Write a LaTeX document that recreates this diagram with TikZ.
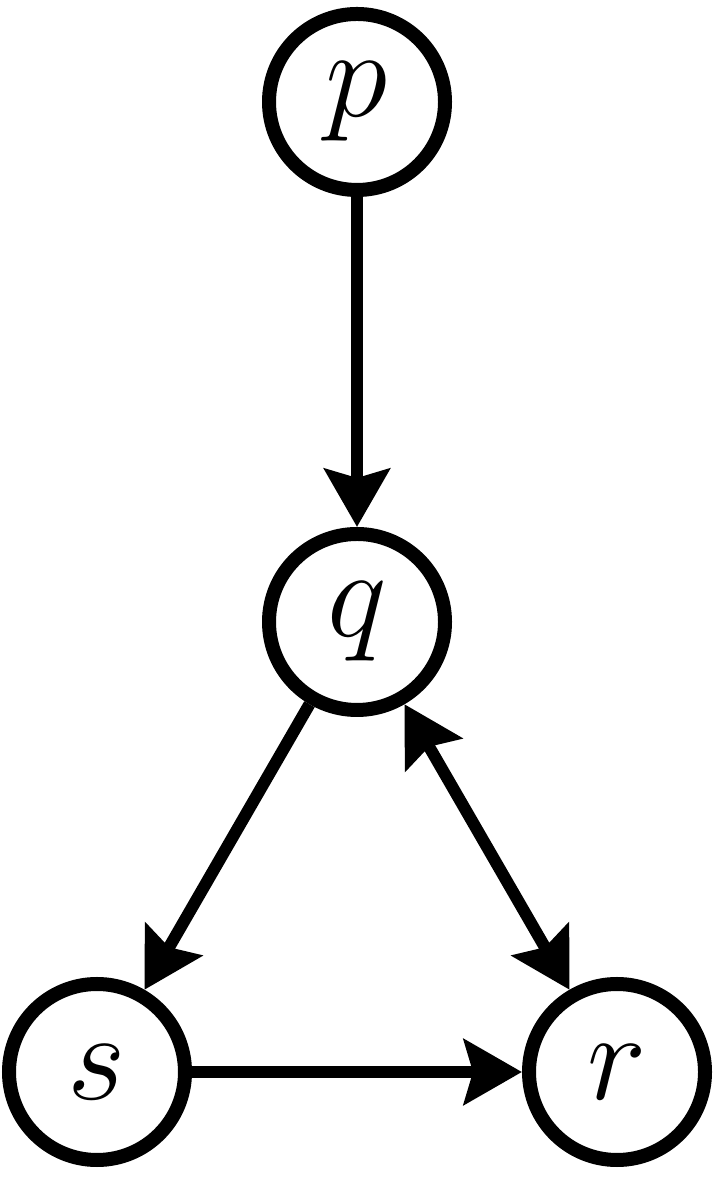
\documentclass[tikz,border=0pt]{standalone}
\usepackage{fix-cm}
\usetikzlibrary{arrows.meta}

\begin{document}
\begin{tikzpicture}[
  vertex/.style={circle, draw=black, line width=1.4mm,
    minimum size=17.6mm, inner sep=0pt,
    font=\fontsize{36}{36}\selectfont},
  arr/.style={line width=1.2mm,
    -{Stealth[length=5.8mm, width=6.5mm, inset=0.9mm]}},
  darr/.style={line width=1.2mm,
    {Stealth[length=5.8mm, width=6.5mm, inset=0.9mm]}-{Stealth[length=5.8mm, width=6.5mm, inset=0.9mm]}}
]
\useasboundingbox (0,0) rectangle (7.13,11.93);

%% ==== Vertices ====
\node[vertex] (p) at (3.57,10.91) {$p$};
\node[vertex] (q) at (3.57, 5.71) {$q$};
\node[vertex] (s) at (0.97, 1.21) {$s$};
\node[vertex] (r) at (6.17, 1.21) {$r$};

%% ==== Edges ====
\foreach \a/\b in {p/q, q/s, s/r}
  \draw[arr] (\a)--(\b);
\draw[darr] (q)--(r);

\end{tikzpicture}
\end{document}
